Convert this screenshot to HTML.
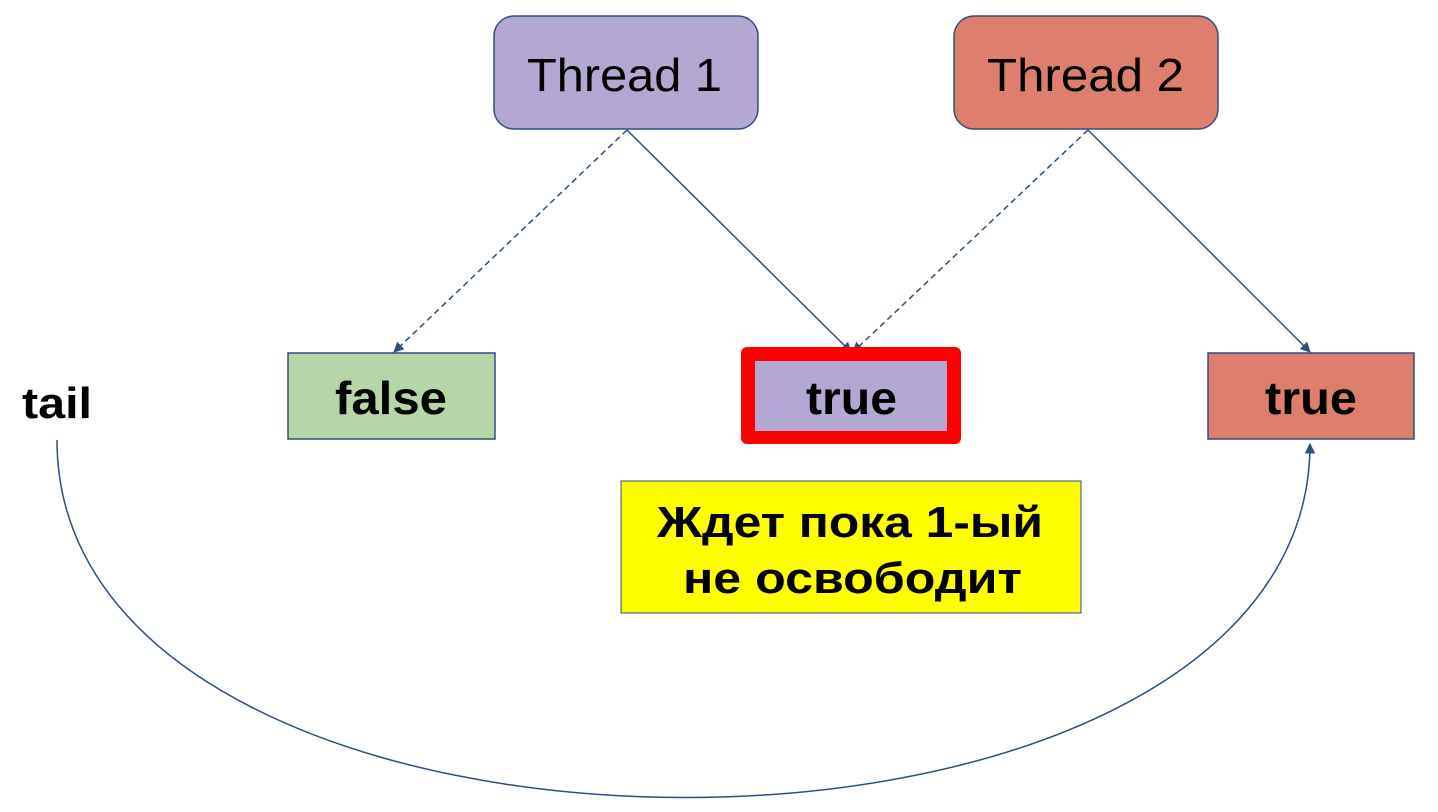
<!DOCTYPE html>
<html><head><meta charset="utf-8"><style>
body{margin:0;width:1438px;height:807px;background:#fff;overflow:hidden;font-family:"Liberation Sans",sans-serif}
</style></head><body>
<svg width="1438" height="807" xmlns="http://www.w3.org/2000/svg">
<defs><marker id="a" viewBox="0 0 10 10" refX="9" refY="5" markerWidth="7" markerHeight="7" orient="auto"><path d="M0,0L10,5L0,10z" fill="#2b4f80"/></marker></defs>
<rect x="494" y="16" width="264" height="113" rx="20" fill="#b3a7d4" stroke="#2e4f7f" stroke-width="1.5"/>
<text x="527" y="91" font-size="46" textLength="195" lengthAdjust="spacingAndGlyphs" font-family="Liberation Sans">Thread 1</text>
<rect x="954" y="16" width="264" height="113" rx="20" fill="#dd7f6c" stroke="#2e4f7f" stroke-width="1.5"/>
<text x="987" y="91" font-size="46" textLength="197" lengthAdjust="spacingAndGlyphs" font-family="Liberation Sans">Thread 2</text>
<g stroke="#2b4f80" stroke-width="1.5" fill="none">
<line x1="627" y1="130" x2="394" y2="352" stroke-dasharray="6,4" marker-end="url(#a)"/>
<line x1="627" y1="130" x2="851" y2="352" marker-end="url(#a)"/>
<line x1="1088" y1="130" x2="853" y2="352" stroke-dasharray="6,4" marker-end="url(#a)"/>
<line x1="1088" y1="130" x2="1310" y2="352" marker-end="url(#a)"/>
<path d="M57,440 C57,916 1310,916 1310,444" marker-end="url(#a)"/>
</g>
<rect x="288" y="353" width="207" height="86" fill="#b5d7a8" stroke="#2e4f7f" stroke-width="1.5"/>
<text x="335" y="414" font-size="46" font-weight="bold" textLength="112" lengthAdjust="spacingAndGlyphs">false</text>
<rect x="741" y="347" width="220" height="97" rx="6" fill="#ff0000"/>
<rect x="755" y="361" width="192" height="70" fill="#b3a7d4"/>
<text x="806" y="414" font-size="46" font-weight="bold" textLength="91" lengthAdjust="spacingAndGlyphs">true</text>
<rect x="1208" y="353" width="206" height="86" fill="#dd7f6c" stroke="#2e4f7f" stroke-width="1.5"/>
<text x="1265" y="414" font-size="46" font-weight="bold" textLength="92" lengthAdjust="spacingAndGlyphs">true</text>
<rect x="621" y="481" width="460" height="132" fill="#ffff00" stroke="#2e4f7f" stroke-width="1"/>
<text x="657" y="537" font-size="44" font-weight="bold" textLength="386" lengthAdjust="spacingAndGlyphs">Ждет пока 1-ый</text>
<text x="683" y="593" font-size="44" font-weight="bold" textLength="339" lengthAdjust="spacingAndGlyphs">не освободит</text>
<text x="22" y="418" font-size="44" font-weight="bold" textLength="70" lengthAdjust="spacingAndGlyphs">tail</text>
</svg>
</body></html>
